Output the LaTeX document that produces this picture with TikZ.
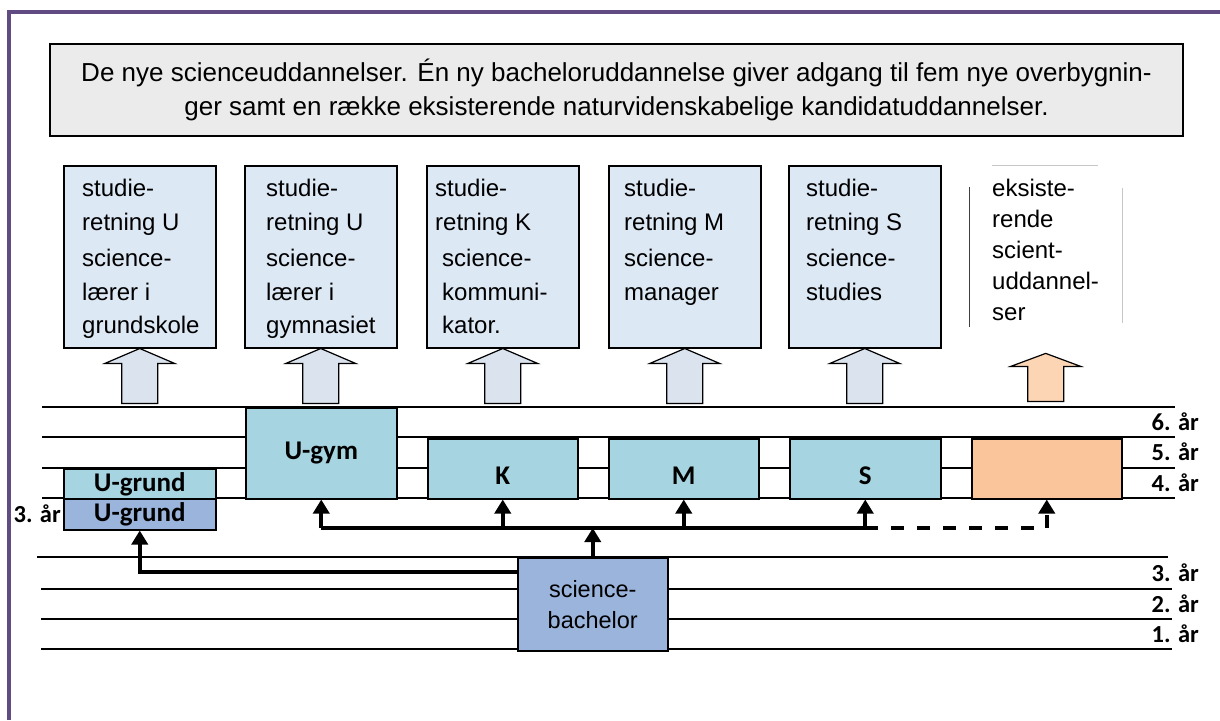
\documentclass[tikz,border=0pt]{standalone}
\usepackage{fontspec}
\setmainfont{Liberation Sans}
\newfontfamily\aarfont{Carlito}
\usetikzlibrary{arrows.meta}
\definecolor{ramme}{RGB}{96,75,130}
\definecolor{overskrift}{RGB}{235,235,235}
\definecolor{retning}{RGB}{221,232,245}
\definecolor{pil}{RGB}{219,227,238}
\definecolor{pilorange}{RGB}{252,213,180}
\definecolor{kandidat}{RGB}{166,212,224}
\definecolor{bachelorfarve}{RGB}{155,180,220}
\definecolor{eksisterende}{RGB}{250,197,155}
\begin{document}
\begin{tikzpicture}[
		x = 1pt, y = -1pt,
		retningbox/.style = {draw, line width = 1.5pt, fill = retning, minimum width = 152, minimum height = 182, anchor = north west},
		retningtekst/.style = {anchor = north west, align = left, inner sep = 0pt, font = \fontsize{24}{33.5}\selectfont},
		blokpil/.style = {draw, line width = 1.2pt, fill = pil},
		aarbox/.style = {draw, line width = 1.5pt, anchor = north west, font = \aarfont\bfseries\fontsize{27}{30}\selectfont},
		lavtekst/.style = {text height = 31pt, text depth = 0pt},
		aarlabel/.style = {anchor = east, inner sep = 0pt, font = \aarfont\bfseries\fontsize{24.5}{28}\selectfont},
		linje/.style = {line width = 1.5pt},
		forbindelse/.style = {line width = 4pt, -{Triangle[width = 16pt, length = 14pt]}},
	]
	\path[use as bounding box, fill = white] (0,0) rectangle (1220,720);
	\draw[ramme, line width = 4pt] (1220,12) -- (9,12) -- (9,720);

	\node[draw, line width = 1.2pt, fill = overskrift, minimum width = 1133, minimum height = 92, align = center, font = \fontsize{26}{34}\selectfont] (titel) at (616.5,90) {De nye scienceuddannelser. Én ny bacheloruddannelse giver adgang til fem nye overbygnin-\\ger samt en række eksisterende naturvidenskabelige kandidatuddannelser.};

	\node[retningbox] (b1) at (63,165) {};
	\node[retningbox] (b2) at (244,165) {};
	\node[retningbox] (b3) at (426,165) {};
	\node[retningbox] (b4) at (608,165) {};
	\node[retningbox] (b5) at (788,165) {};
	\node[minimum width = 153, minimum height = 182, anchor = north west] (b6) at (969,165) {};
	\draw[gray!45, line width = 0.8pt] ([xshift = 23]b6.north west) -- ([xshift = -24]b6.north east);
	\draw[black!75, line width = 0.8pt] ([yshift = -22]b6.north west) -- ([yshift = 20]b6.south west);
	\draw[gray!45, line width = 0.8pt] ([yshift = -23]b6.north east) -- ([yshift = 24]b6.south east);

	\node[retningtekst] at ([xshift = 19, yshift = -14]b1.north west) {studie-\\retning U\\[3pt]science-\\lærer i\\grundskole};
	\node[retningtekst] at ([xshift = 22, yshift = -14]b2.north west) {studie-\\retning U\\[3pt]science-\\lærer i\\gymnasiet};
	\node[retningtekst] at ([xshift = 9, yshift = -14]b3.north west) {studie-\\retning K\\[3pt]\hspace{7pt}science-\\\hspace{7pt}kommuni-\\\hspace{7pt}kator.};
	\node[retningtekst] at ([xshift = 16, yshift = -14]b4.north west) {studie-\\retning M\\[3pt]science-\\manager};
	\node[retningtekst] at ([xshift = 18, yshift = -14]b5.north west) {studie-\\retning S\\[3pt]science-\\studies};
	\node[retningtekst, font = \fontsize{24}{31}\selectfont] at ([xshift = 23, yshift = -14]b6.north west) {eksiste-\\rende\\scient-\\uddannel-\\ser};

	\foreach \b in {b1,b2,b3,b4,b5}
		\draw[blokpil] (\b.south) -- ++(35,15) -- ++(-17,0) -- ++(0,40) -- ++(-36,0) -- ++(0,-40) -- ++(-17,0) -- cycle;
	\draw[blokpil, fill = pilorange] ([yshift = -6]b6.south) -- ++(35,13) -- ++(-17,0) -- ++(0,35) -- ++(-36,0) -- ++(0,-35) -- ++(-17,0) -- cycle;

	\foreach \y in {407,437,468,498}
		\draw[linje] (42,\y) -- (1175,\y);
	\draw[linje] (37,557) -- (1168,557);
	\foreach \y in {589,619,649}
		\draw[linje] (41,\y) -- (1172,\y);

	\node[aarbox, fill = kandidat, minimum width = 152, minimum height = 30] (ugo) at (63,468) {U-grund};
	\node[aarbox, fill = bachelorfarve, minimum width = 152, minimum height = 31] (ugn) at (63,498) {U-grund};
	\node[aarbox, fill = kandidat, minimum width = 151, minimum height = 91] (ugym) at (245,407) {U-gym};
	\node[aarbox, lavtekst, fill = kandidat, minimum width = 150, minimum height = 60] (k) at (427,438) {K};
	\node[aarbox, lavtekst, fill = kandidat, minimum width = 150, minimum height = 60] (m) at (608,438) {M};
	\node[aarbox, lavtekst, fill = kandidat, minimum width = 151, minimum height = 60] (s) at (789,438) {S};
	\node[aarbox, fill = eksisterende, minimum width = 150, minimum height = 60] (eks) at (971,438) {};
	\node[draw, line width = 1.5pt, fill = bachelorfarve, minimum width = 150, minimum height = 93, anchor = north west, align = center, font = \fontsize{23.5}{31}\selectfont] (bach) at (517,557) {science-\\bachelor};

	\node[aarlabel] at (1199,422) {6. år};
	\node[aarlabel] at (1199,452) {5. år};
	\node[aarlabel] at (1199,483) {4. år};
	\node[aarlabel] at (1199,573) {3. år};
	\node[aarlabel] at (1199,604) {2. år};
	\node[aarlabel] at (1199,634) {1. år};
	\node[aarlabel] at (61,514) {3. år};

	\coordinate (knude) at (bach.north |- 0,528);
	\draw[forbindelse] (bach.north) -- (knude);
	\draw[line width = 4pt] (ugym.south |- knude) -- (s.south |- knude);
	\foreach \m in {ugym,k,m,s}
		\draw[forbindelse] (\m.south |- knude) -- (\m.south);
	\draw[forbindelse, dash pattern = on 13pt off 13pt] (s.south |- knude) -- (eks.south |- knude) -- (eks.south);
	\draw[forbindelse] ([yshift = -15]bach.north west) -| (ugn.south);
\end{tikzpicture}
\end{document}
